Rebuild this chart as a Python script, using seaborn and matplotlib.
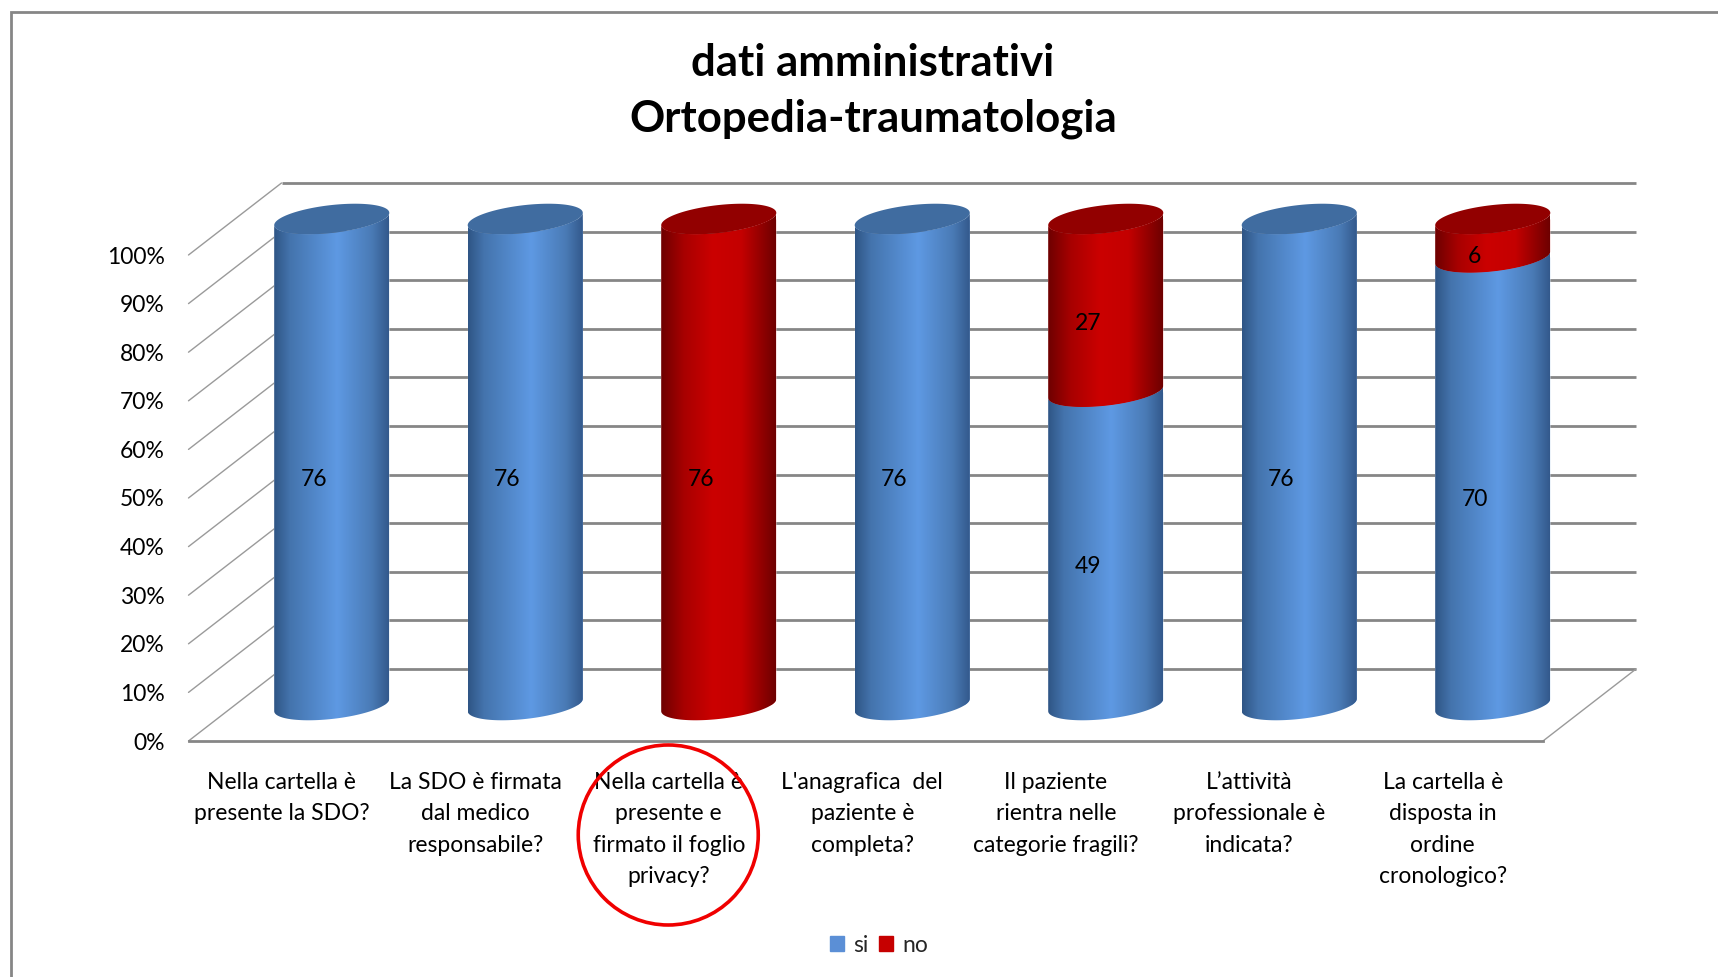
import numpy as np
import pandas as pd
import matplotlib
matplotlib.use("Agg")
import matplotlib.pyplot as plt
from matplotlib.colors import LinearSegmentedColormap
from matplotlib.lines import Line2D
from matplotlib.patches import Ellipse, Patch, PathPatch
from matplotlib.path import Path
from matplotlib.transforms import Affine2D, IdentityTransform
import seaborn as sns

domande = [
    "Nella cartella è\npresente la SDO?",
    "La SDO è firmata\ndal medico\nresponsabile?",
    "Nella cartella è\npresente e\nfirmato il foglio\nprivacy?",
    "L'anagrafica  del\npaziente è\ncompleta?",
    "Il paziente\nrientra nelle\ncategorie fragili?",
    "L’attività\nprofessionale è\nindicata?",
    "La cartella è\ndisposta in\nordine\ncronologico?",
]
si = [76, 76, 0, 76, 49, 76, 70]
no = [0, 0, 76, 0, 27, 0, 6]
percent_ticks = [0, 10, 20, 30, 40, 50, 60, 70, 80, 90, 100]
title_lines = ["dati amministrativi", "Ortopedia-traumatologia"]

W, H = 1718, 977
GREY = "#868686"
BLUE, RED = "#5b93dc", "#c60000"
BLUE_TOP, RED_TOP = "#406ca0", "#920000"
FS = 16.5

sns.set_theme(style="white")
plt.rcParams["font.family"] = ["Lato", "DejaVu Sans"]

df = pd.DataFrame({"domanda": domande, "si": si, "no": no})
df["tot"] = df["si"] + df["no"]
df["pct_si"] = 100 * df["si"] / df["tot"]
df["pct_tot"] = 100.0

fig = plt.figure(figsize=(W / 100, H / 100), dpi=100, facecolor="white")
ax = fig.add_axes([188.5 / W, (H - 741) / H, 1354.5 / W, 486 / H])
ax.set_facecolor("none")

BAR_W = 115 / 193.5
sns.barplot(data=df, x="domanda", y="pct_tot", color=RED, saturation=1, width=BAR_W, ax=ax, zorder=3)
sns.barplot(data=df, x="domanda", y="pct_si", color=BLUE, saturation=1, width=BAR_W, ax=ax, zorder=3)
ax.set_xlim(-0.5, 6.5)
ax.set_ylim(0, 100)
ax.set_xlabel("")
ax.set_ylabel("")

# depth of the pseudo-3D box, pixels
DX, DY = 93, 72
back = ax.transData + Affine2D().translate(DX, DY)
mid = ax.transData + Affine2D().translate(DX / 2, DY / 2)

# back wall and side wall
for v in percent_ticks:
    ax.plot([-0.5, 6.5], [v, v], transform=back, color=GREY, lw=2.0, clip_on=False, zorder=1,
            solid_capstyle="butt")
    p0 = ax.transData.transform((-0.5, v))
    p1 = back.transform((-0.5, v))
    ax.plot([p0[0], p1[0]], [p0[1], p1[1]], transform=IdentityTransform(), color="#9a9a9a",
            lw=1.0, clip_on=False, zorder=1)
p0 = ax.transData.transform((6.5, 0))
p1 = back.transform((6.5, 0))
ax.plot([p0[0], p1[0]], [p0[1], p1[1]], transform=IdentityTransform(), color="#9a9a9a",
        lw=1.0, clip_on=False, zorder=1)

# cylinders
A, B, THETA = 57.9, 13.9, np.radians(6.5)
T0 = np.arctan2(-B * np.sin(THETA), A * np.cos(THETA))


def ell(cx, cy, t):
    x = cx + A * np.cos(t) * np.cos(THETA) - B * np.sin(t) * np.sin(THETA)
    y = cy + A * np.cos(t) * np.sin(THETA) + B * np.sin(t) * np.cos(THETA)
    return np.column_stack([x, y])


lower = np.linspace(T0 - np.pi, T0, 60)   # left end -> right end, along the near side


def segment_path(xc, lo, hi):
    cl = mid.transform((xc, lo))
    ch = mid.transform((xc, hi))
    pts = np.vstack([ell(cl[0], cl[1], lower), ell(ch[0], ch[1], lower)[::-1]])
    return Path(np.vstack([pts, pts[:1]]), closed=True)


blue_cmap = LinearSegmentedColormap.from_list(
    "b", [(0, "#2f5585"), (0.14, "#4474ad"), (0.55, "#5e99e3"), (0.85, "#4a7bb6"), (1, "#33598c")])
red_cmap = LinearSegmentedColormap.from_list(
    "r", [(0, "#6e0000"), (0.2, "#a80000"), (0.45, "#cb0000"), (0.7, "#c40000"), (1, "#6e0000")])
grad = np.linspace(0, 1, 256).reshape(1, -1)


def shade(bar, lo, hi, cmap):
    xc = bar.get_x() + bar.get_width() / 2
    path = segment_path(xc, lo, hi)
    clip = PathPatch(path, transform=IdentityTransform())
    bar.set_transform(mid)
    bar.set_clip_box(fig.bbox)
    bar.set_clip_path(clip)
    im = ax.imshow(grad, cmap=cmap, aspect="auto", transform=mid, zorder=bar.get_zorder() + 0.1,
                   extent=(bar.get_x(), bar.get_x() + bar.get_width(), lo - 10, hi + 10),
                   interpolation="bilinear", origin="lower")
    im.set_clip_box(fig.bbox)
    im.set_clip_path(clip)


red_bars, blue_bars = ax.containers[0], ax.containers[1]
for i, (rb, bb) in enumerate(zip(red_bars, blue_bars)):
    s = df["pct_si"].iloc[i]
    xc = rb.get_x() + rb.get_width() / 2
    if s > 0:
        shade(bb, 0, s, blue_cmap)
    else:
        bb.set_visible(False)
    if s < 100:
        shade(rb, s, 100, red_cmap)
    else:
        rb.set_visible(False)
    c = mid.transform((xc, 100))
    pts = ell(c[0], c[1], np.linspace(0, 2 * np.pi, 120))
    ax.add_patch(PathPatch(Path(pts, closed=True), transform=IdentityTransform(), lw=0,
                           facecolor=RED_TOP if s < 100 else BLUE_TOP, zorder=4, clip_on=False))
ax.set_xlim(-0.5, 6.5)
ax.set_ylim(0, 100)

# value labels
lab = ax.transData + Affine2D().translate(DX / 2 - 18, DY / 2 - 18)
for i in range(len(domande)):
    s = df["pct_si"].iloc[i]
    for val, centre in ((si[i], s / 2), (no[i], s + (100 - s) / 2)):
        if val:
            ax.text(i, centre, str(val), transform=lab, ha="center", va="center",
                    fontsize=FS, color="black", zorder=6, clip_on=False)

# axes
ax.set_yticks(percent_ticks)
ax.set_yticklabels([f"{v}%" for v in percent_ticks])
ax.set_xticks(np.arange(len(domande)) - 0.018, labels=domande)
ax.tick_params(axis="y", length=0, pad=17, labelsize=FS, labelcolor="black")
ax.tick_params(axis="x", length=0, pad=22.5, labelsize=FS, labelcolor="black")
for lbl in ax.get_xticklabels():
    lbl.set_linespacing(1.6)
    lbl.set_ha("center")
for side in ("left", "right", "top"):
    ax.spines[side].set_visible(False)
ax.spines["bottom"].set_color(GREY)
ax.spines["bottom"].set_linewidth(2.0)
ax.spines["bottom"].set_zorder(2)
ax.grid(False)

# title
fig.text(873 / W, 1 - 91 / H, "\n".join(title_lines), ha="center", va="center",
         fontsize=31.5, fontweight="bold", color="black", linespacing=1.45)

# legend
ax.legend(handles=[Patch(color="#5b8fd6", label="si"), Patch(color=RED, label="no")],
          loc="center", bbox_to_anchor=(879 / W, 1 - 945 / H), bbox_transform=fig.transFigure,
          ncol=2, frameon=False, fontsize=FS, handlelength=0.62, handleheight=0.62,
          handletextpad=0.4, columnspacing=0.45)

# red circle around the third category's label
cx = ax.transData.transform((2, 0))[0] - 4
fig.add_artist(Ellipse((cx, H - 835), 180, 180, transform=IdentityTransform(), fill=False,
                       edgecolor="#f00000", lw=2.6, zorder=8))

# outer frame (left and top only)
fig.add_artist(Line2D([11 / W, 11 / W, 1], [0, 1 - 12 / H, 1 - 12 / H], color=GREY, lw=2.0,
                      solid_joinstyle="miter"))

fig.savefig("out.png", dpi=100)
